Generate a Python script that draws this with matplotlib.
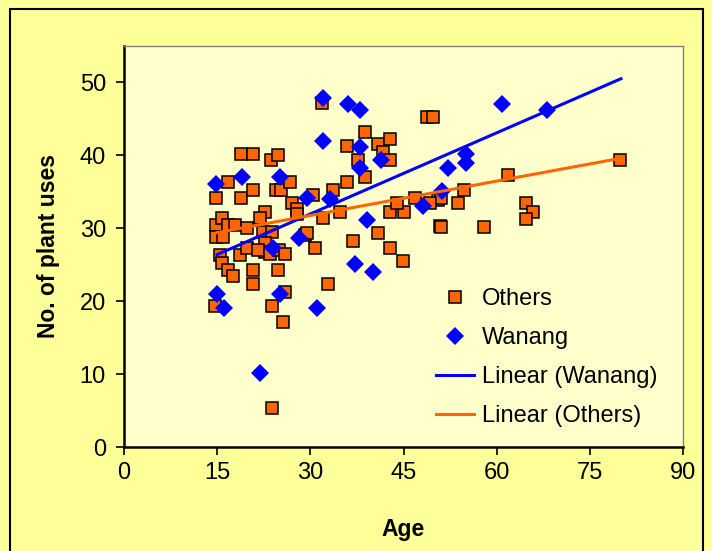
import numpy as np
import matplotlib.pyplot as plt
from matplotlib.lines import Line2D
from matplotlib.patches import Rectangle

plt.rcParams['font.family'] = ['Liberation Sans', 'DejaVu Sans']

# Others (squares)
others_age = [18.8, 20.8, 23.7, 24.8, 16.8, 14.8, 18.8, 20.8, 24.5, 25.3, 26.7, 27.0, 27.8, 27.8,
              22.7, 21.9, 14.8, 15.8, 16.8, 17.9, 19.8, 14.8, 15.9, 22.4, 23.8,
              15.5, 15.7, 16.8, 17.6, 18.7, 19.8, 20.8, 20.8, 22.7, 22.7, 24.8, 25.9, 23.8, 25.6,
              14.7, 30.8, 29.1, 21.5, 23.5, 25.0, 26.0,
              36.9, 42.8, 44.9, 32.9, 23.8,
              34.8, 32.1, 42.8, 45.0, 43.9, 50.9, 40.9, 50.6,
              31.8, 48.8, 49.8, 38.8, 35.9, 40.9, 42.8, 41.7, 42.8, 37.7, 38.8, 35.9, 33.7, 30.5,
              29.4, 46.9,
              79.9, 61.9, 54.7, 53.8, 51.1, 64.7, 65.8, 64.7, 57.9, 51.1, 49.3]
others_uses = [40.2, 40.2, 39.4, 40.1, 36.3, 34.2, 34.2, 35.2, 35.2, 35.2, 36.3, 33.5, 32.6, 31.9,
               32.3, 31.4, 30.4, 31.4, 30.4, 30.4, 30.1, 28.8, 28.8, 29.5, 29.5,
               26.4, 25.2, 24.3, 23.4, 26.4, 27.3, 24.3, 22.3, 28.0, 26.8, 24.3, 21.3, 19.3, 17.2,
               19.3, 27.3, 29.1, 27.0, 26.5, 27.0, 26.5,
               28.2, 27.3, 25.5, 22.3, 5.3,
               32.3, 31.4, 32.3, 32.3, 33.5, 30.3, 29.4, 33.9,
               47.2, 45.3, 45.3, 43.2, 41.3, 41.5, 42.3, 40.4, 39.4, 39.4, 37.1, 36.4, 35.3, 34.6,
               29.4, 34.2,
               39.3, 37.3, 35.2, 33.4, 34.2, 33.4, 32.2, 31.3, 30.2, 30.2, 33.5]

# Wanang (diamonds)
wanang_age = [32.0, 36.1, 38.0, 32.0, 38.0, 41.4, 38.0, 14.8, 19.0, 25.1, 29.4, 33.2, 39.1, 28.1,
              24.0, 15.0, 16.1, 25.1, 31.1, 21.9, 37.2, 40.1, 60.9, 68.1, 55.1, 55.1, 52.2, 51.2, 48.2]
wanang_uses = [47.9, 47.1, 46.2, 42.0, 41.2, 39.4, 38.3, 36.1, 37.1, 37.1, 34.2, 34.0, 31.2, 28.7,
               27.3, 21.0, 19.0, 21.0, 19.0, 10.2, 25.1, 24.0, 47.1, 46.2, 40.2, 38.9, 38.2, 35.1, 33.1]

# trendlines: slope, intercept, age range
trend_wanang = [0.371, 20.83]
trend_others = [0.157, 27.05]
trend_range = [15, 80]

orange = '#FF6600'
blue = '#0000FF'

fig = plt.figure(figsize=(7.12, 5.51), dpi=100)
fig.patch.set_facecolor('#FFFF99')
fig.patches.append(Rectangle((10 / 712, -0.01), 693 / 712, 1 - 9 / 551 + 0.01,
                             transform=fig.transFigure, fill=False,
                             edgecolor='black', linewidth=1.5))

ax = fig.add_axes([124 / 712, 1 - 447 / 551, 559 / 712, 401 / 551])
ax.set_facecolor('#FFFFCC')

ax.plot(others_age, others_uses, linestyle='none', marker='s', markersize=8.7,
        markerfacecolor=orange, markeredgecolor='black', markeredgewidth=1.1, zorder=2)
ax.plot(wanang_age, wanang_uses, linestyle='none', marker='D', markersize=9.4,
        markerfacecolor=blue, markeredgecolor=blue, markeredgewidth=0, zorder=3)

xs = np.array(trend_range)
ax.plot(xs, trend_wanang[0] * xs + trend_wanang[1], color=blue, linewidth=2.2, zorder=4)
ax.plot(xs, trend_others[0] * xs + trend_others[1], color=orange, linewidth=2.2, zorder=4)

ax.set_xlim(0, 90)
ax.set_ylim(0, 55)
ax.set_xticks(np.arange(0, 91, 15))
ax.set_yticks(np.arange(0, 51, 10))
ax.tick_params(axis='both', direction='out', length=6, width=1.2, labelsize=17)
ax.tick_params(axis='y', pad=7)
ax.tick_params(axis='x', pad=5)

for s in ['left', 'bottom']:
    ax.spines[s].set_linewidth(1.8)
    ax.spines[s].set_color('black')
for s in ['top', 'right']:
    ax.spines[s].set_linewidth(1)
    ax.spines[s].set_color('#808080')

ax.set_xlabel('Age', fontsize=16.5, fontweight='bold', labelpad=24)
ax.set_ylabel('No. of plant uses', fontsize=16.5, fontweight='bold', labelpad=14)

handles = [
    Line2D([], [], linestyle='none', marker='s', markersize=8.7, markerfacecolor=orange,
           markeredgecolor='black', markeredgewidth=1.1),
    Line2D([], [], linestyle='none', marker='D', markersize=9.4, markerfacecolor=blue,
           markeredgewidth=0),
    Line2D([], [], color=blue, linewidth=2.2),
    Line2D([], [], color=orange, linewidth=2.2),
]
labels = ['Others', 'Wanang', 'Linear (Wanang)', 'Linear (Others)']
ax.legend(handles, labels, loc='upper left', bbox_to_anchor=(0.52, 0.45), frameon=False,
          fontsize=17, handlelength=1.6, handletextpad=0.35, labelspacing=0.72)

fig.savefig('out.png', dpi=100, facecolor=fig.get_facecolor())
